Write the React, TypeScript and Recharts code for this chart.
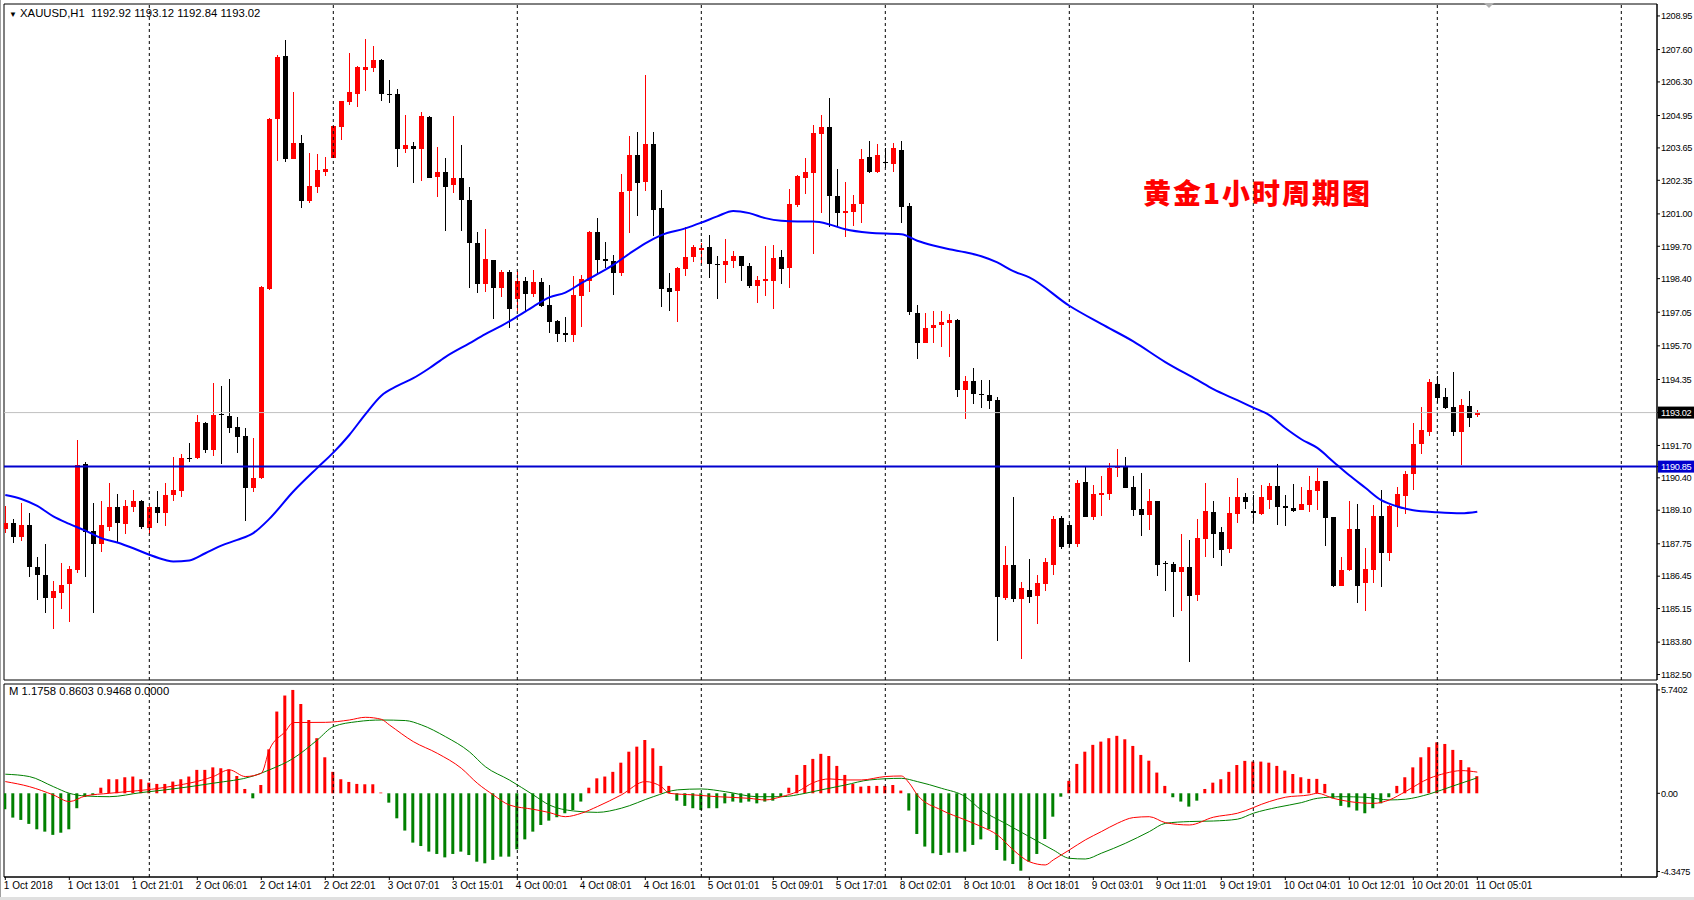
import React from "react";
import { ComposedChart, Bar, Line, XAxis, YAxis, ReferenceLine, ReferenceArea, Cell } from "recharts";

const FONT = "'Liberation Sans', Arial, sans-serif";

// bar slots: 8px each, first candle at x=5.3
const X_LO = -0.1625;
const X_HI = 206.4625;
const PRICE_LO = 1182.28;
const PRICE_HI = 1209.43;
const MACD_LO = -4.65;
const MACD_HI = 6.07;

const opens = [
  1188.34, 1188.58, 1188.04, 1188.51, 1186.82, 1186.5, 1185.59, 1185.79, 1186.13, 1186.7,
  1190.96, 1188.27, 1187.76, 1188.44, 1189.21, 1188.55, 1189.21, 1189.47, 1188.4, 1189.21,
  1188.97, 1189.72, 1189.89, 1191.19, 1191.19, 1192.62, 1191.52, 1192.97, 1192.89, 1192.46,
  1192.06, 1190.01, 1190.38, 1197.97, 1204.8, 1207.34, 1203.2, 1203.84, 1201.5, 1202.1,
  1202.7, 1203.26, 1204.51, 1205.51, 1205.83, 1206.76, 1206.85, 1207.18, 1205.83, 1205.82,
  1203.6, 1203.73, 1203.6, 1204.91, 1202.5, 1202.67, 1202.15, 1202.43, 1201.56, 1199.82,
  1198.18, 1199.15, 1198.04, 1198.67, 1197.57, 1198.31, 1197.77, 1198.27, 1197.35, 1196.68,
  1196.23, 1196.14, 1197.72, 1198.32, 1200.26, 1199.18, 1199.11, 1198.62, 1201.9, 1203.37,
  1202.3, 1203.81, 1201.23, 1198.03, 1197.92, 1198.8, 1199.25, 1199.53, 1199.66, 1198.98,
  1198.93, 1199.09, 1199.31, 1198.91, 1198.11, 1198.31, 1198.32, 1199.26, 1198.84, 1201.36,
  1202.46, 1202.66, 1204.2, 1204.48, 1201.72, 1201.05, 1201.09, 1201.39, 1203.27, 1202.7,
  1203.09, 1202.99, 1203.57, 1201.32, 1197.01, 1195.81, 1196.4, 1196.52, 1196.6, 1196.72,
  1193.93, 1194.29, 1193.78, 1193.73, 1193.53, 1185.56, 1186.9, 1185.54, 1185.9, 1185.66,
  1186.14, 1186.9, 1188.8, 1188.51, 1187.75, 1190.22, 1188.84, 1189.71, 1189.76, 1190.79,
  1190.88, 1190.02, 1189.15, 1188.91, 1189.47, 1186.97, 1186.94, 1186.6, 1186.81, 1185.7,
  1187.95, 1189.02, 1188.22, 1187.55, 1188.95, 1189.62, 1189.07, 1188.95, 1189.51, 1190.08,
  1189.25, 1189.18, 1189.11, 1189.31, 1189.88, 1190.28, 1188.84, 1186.07, 1186.68, 1188.35,
  1186.17, 1186.7, 1188.87, 1187.4, 1189.22, 1189.69, 1190.54, 1191.75, 1192.26, 1194.17,
  1193.64, 1193.23, 1192.26, 1193.29, 1192.92,
];

const highs = [
  1189.25, 1188.75, 1189.38, 1188.98, 1187.21, 1187.75, 1186.26, 1186.97, 1186.86, 1191.9,
  1191.04, 1189.38, 1189.45, 1190.18, 1189.76, 1189.51, 1189.92, 1189.51, 1189.27, 1189.88,
  1190.18, 1191.23, 1191.36, 1191.79, 1192.93, 1192.66, 1194.2, 1194.09, 1194.36, 1192.86,
  1192.39, 1191.99, 1198.11, 1204.84, 1207.39, 1207.99, 1205.91, 1204.17, 1203.44, 1203.41,
  1203.28, 1204.53, 1205.54, 1207.45, 1206.92, 1208.03, 1207.75, 1207.21, 1206.38, 1206.02,
  1204.98, 1203.88, 1205.11, 1204.94, 1203.7, 1203.26, 1204.94, 1203.77, 1202.07, 1200.29,
  1200.4, 1199.15, 1198.75, 1198.75, 1198.71, 1198.46, 1198.75, 1198.42, 1198.15, 1196.74,
  1196.85, 1198.49, 1198.55, 1200.32, 1200.84, 1199.86, 1199.35, 1202.61, 1204.13, 1204.29,
  1206.58, 1204.29, 1201.96, 1198.62, 1198.86, 1200.46, 1199.76, 1199.82, 1200.16, 1199.31,
  1199.98, 1199.52, 1199.31, 1199.02, 1198.51, 1199.71, 1199.75, 1199.55, 1202.0, 1202.57,
  1203.24, 1204.57, 1204.97, 1205.64, 1202.79, 1202.27, 1201.76, 1203.61, 1203.93, 1203.8,
  1203.64, 1203.84, 1203.93, 1201.43, 1197.35, 1197.01, 1197.08, 1197.08, 1196.98, 1196.78,
  1194.49, 1194.8, 1194.33, 1194.33, 1193.64, 1187.68, 1189.61, 1186.23, 1187.14, 1186.5,
  1187.17, 1188.87, 1188.87, 1188.58, 1190.32, 1190.83, 1190.12, 1190.48, 1190.99, 1191.56,
  1191.23, 1190.48, 1190.58, 1189.96, 1189.47, 1187.06, 1187.01, 1188.15, 1187.91, 1188.74,
  1190.18, 1189.47, 1188.44, 1189.61, 1190.38, 1189.78, 1189.71, 1190.12, 1190.21, 1190.96,
  1189.71, 1190.16, 1190.05, 1190.48, 1190.81, 1190.28, 1188.84, 1187.24, 1189.45, 1189.35,
  1187.6, 1189.29, 1189.92, 1189.29, 1190.05, 1190.69, 1192.62, 1193.26, 1194.37, 1194.49,
  1194.0, 1194.64, 1193.56, 1193.89, 1193.12,
];

const lows = [
  1188.18, 1187.8, 1187.88, 1186.43, 1185.5, 1184.99, 1184.32, 1185.12, 1184.59, 1186.57,
  1186.43, 1184.99, 1187.44, 1188.27, 1187.8, 1188.15, 1189.03, 1188.34, 1188.15, 1188.6,
  1188.47, 1189.47, 1189.61, 1191.05, 1191.15, 1191.41, 1191.28, 1190.96, 1192.19, 1191.41,
  1188.68, 1189.85, 1190.34, 1197.95, 1203.14, 1203.1, 1203.2, 1201.25, 1201.43, 1201.83,
  1202.54, 1203.26, 1203.95, 1205.38, 1205.31, 1205.94, 1206.69, 1205.54, 1205.44, 1202.9,
  1203.44, 1202.23, 1202.34, 1202.43, 1201.67, 1200.33, 1201.83, 1200.33, 1198.01, 1197.81,
  1197.88, 1196.77, 1197.65, 1196.41, 1197.12, 1197.08, 1197.68, 1197.28, 1196.23, 1195.87,
  1195.87, 1195.87, 1196.45, 1197.88, 1198.55, 1198.82, 1197.75, 1198.51, 1200.25, 1200.93,
  1201.9, 1200.12, 1197.28, 1197.08, 1196.64, 1198.49, 1199.05, 1198.99, 1198.44, 1197.59,
  1198.24, 1198.82, 1198.32, 1198.02, 1197.44, 1197.71, 1197.19, 1198.17, 1198.04, 1201.29,
  1201.8, 1199.38, 1201.03, 1200.49, 1200.49, 1200.09, 1200.53, 1200.65, 1202.63, 1202.66,
  1202.86, 1202.7, 1200.65, 1196.94, 1195.16, 1195.81, 1195.81, 1195.65, 1195.24, 1193.66,
  1192.75, 1193.37, 1193.22, 1193.18, 1183.86, 1185.5, 1185.43, 1183.13, 1185.39, 1184.53,
  1185.87, 1186.5, 1187.55, 1187.64, 1187.64, 1188.84, 1188.71, 1188.87, 1189.51, 1190.45,
  1190.01, 1188.87, 1188.07, 1188.31, 1186.46, 1185.86, 1184.83, 1185.07, 1183.02, 1185.47,
  1187.2, 1187.17, 1186.84, 1187.4, 1188.58, 1189.15, 1188.6, 1188.91, 1189.15, 1188.51,
  1188.47, 1189.04, 1189.09, 1189.04, 1189.09, 1187.68, 1186.03, 1186.07, 1186.64, 1185.39,
  1185.07, 1186.17, 1186.03, 1187.04, 1188.44, 1188.94, 1189.91, 1191.36, 1192.08, 1193.42,
  1193.17, 1192.06, 1190.92, 1192.46, 1192.84,
];

const closes = [
  1188.58, 1188.04, 1188.51, 1186.8, 1186.48, 1185.59, 1185.86, 1186.1, 1186.74, 1190.92,
  1188.24, 1187.73, 1188.51, 1189.21, 1188.6, 1189.25, 1189.47, 1188.44, 1189.21, 1188.97,
  1189.72, 1189.92, 1191.19, 1191.15, 1192.66, 1191.52, 1192.93, 1192.91, 1192.42, 1192.02,
  1190.01, 1190.41, 1198.05, 1204.8, 1207.29, 1203.2, 1203.84, 1201.5, 1202.12, 1202.77,
  1202.81, 1204.53, 1205.54, 1205.9, 1206.88, 1206.88, 1207.18, 1205.8, 1205.79, 1203.6,
  1203.77, 1203.6, 1204.94, 1202.46, 1202.67, 1202.1, 1202.43, 1201.54, 1199.82, 1198.18,
  1199.18, 1198.04, 1198.67, 1197.17, 1198.31, 1197.77, 1198.27, 1197.32, 1196.64, 1196.18,
  1196.15, 1197.75, 1198.39, 1200.28, 1199.15, 1199.09, 1198.62, 1201.88, 1203.37, 1202.26,
  1203.81, 1201.16, 1198.0, 1197.88, 1198.82, 1199.26, 1199.66, 1199.62, 1198.97, 1198.94,
  1199.11, 1199.31, 1198.89, 1198.11, 1198.35, 1198.38, 1199.22, 1198.8, 1201.4, 1202.53,
  1202.69, 1204.24, 1204.48, 1201.7, 1201.05, 1201.12, 1201.4, 1203.21, 1202.7, 1203.37,
  1203.03, 1203.64, 1201.27, 1197.04, 1195.81, 1196.41, 1196.54, 1196.67, 1196.72, 1193.93,
  1194.29, 1193.76, 1193.72, 1193.5, 1185.6, 1186.9, 1185.54, 1185.97, 1185.63, 1186.19,
  1187.0, 1188.75, 1187.64, 1187.75, 1190.18, 1188.84, 1189.74, 1189.78, 1190.79, 1190.88,
  1190.01, 1189.11, 1188.91, 1189.47, 1186.9, 1186.93, 1186.6, 1186.81, 1185.66, 1187.97,
  1189.07, 1188.15, 1187.51, 1188.98, 1189.62, 1189.41, 1188.98, 1189.61, 1190.08, 1189.21,
  1189.18, 1189.07, 1189.35, 1189.91, 1190.28, 1188.8, 1186.07, 1186.7, 1188.35, 1186.07,
  1186.73, 1188.87, 1187.4, 1189.25, 1189.75, 1190.56, 1191.76, 1192.32, 1194.24, 1193.62,
  1193.22, 1192.26, 1193.33, 1192.82, 1193.02,
];

// moving average, read at sampled bars
const maBars = [
  0, 2, 4, 6, 8, 10, 12, 14, 16, 18, 20, 21, 23, 25, 27, 29, 31, 33, 36, 39, 41, 43, 45, 47, 49,
  51, 53, 55, 58, 60, 62, 64, 66, 68, 70, 72, 74, 76, 78, 80, 82, 85, 87, 89, 91, 93, 95, 97, 99,
  101, 103, 105, 108, 112, 114, 116, 118, 120, 122, 124, 126, 128, 133, 137, 141, 145, 149, 151,
  154, 156, 158, 160, 162, 164, 166, 168, 170, 172, 174, 176, 179, 182, 184,
];
const maValues = [
  1189.71, 1189.55, 1189.27, 1188.85, 1188.55, 1188.28, 1187.98, 1187.8, 1187.57, 1187.31, 1187.1,
  1187.04, 1187.08, 1187.37, 1187.68, 1187.91, 1188.18, 1188.75, 1189.85, 1190.8, 1191.41, 1192.12,
  1192.95, 1193.7, 1194.09, 1194.4, 1194.8, 1195.25, 1195.8, 1196.17, 1196.5, 1196.88, 1197.28,
  1197.65, 1197.84, 1198.22, 1198.58, 1198.95, 1199.4, 1199.82, 1200.15, 1200.42, 1200.65, 1200.9,
  1201.12, 1201.03, 1200.83, 1200.72, 1200.69, 1200.69, 1200.58, 1200.38, 1200.24, 1200.18, 1199.92,
  1199.73, 1199.58, 1199.46, 1199.3, 1199.05, 1198.7, 1198.45, 1197.31, 1196.58, 1195.88, 1195.05,
  1194.33, 1193.96, 1193.52, 1193.22, 1192.92, 1192.4, 1191.95, 1191.6, 1191.05, 1190.5, 1190.0,
  1189.5, 1189.25, 1189.1, 1189.02, 1188.98, 1189.04,
];

const macdHist = [
  -0.89, -1.35, -1.48, -1.7, -2.0, -2.13, -2.31, -2.19, -2.0, -0.83,
  -0.2, -0.1, 0.31, 0.78, 0.78, 0.89, 0.93, 0.78, 0.59, 0.52,
  0.52, 0.65, 0.78, 0.93, 1.3, 1.3, 1.44, 1.39, 1.33, 0.96,
  0.24, -0.28, 0.46, 2.44, 4.54, 5.43, 5.74, 4.96, 4.07, 3.06,
  2.0, 1.19, 0.78, 0.63, 0.52, 0.5, 0.5, 0.04, -0.52, -1.39,
  -2.07, -2.74, -2.93, -3.24, -3.37, -3.56, -3.37, -3.24, -3.43, -3.8,
  -3.89, -3.7, -3.52, -3.52, -3.11, -2.56, -2.13, -1.76, -1.52, -1.33,
  -1.11, -0.93, -0.46, 0.31, 0.83, 0.93, 1.19, 1.7, 2.31, 2.59,
  2.96, 2.5, 1.52, 0.41, -0.41, -0.7, -0.83, -0.93, -0.83, -0.83,
  -0.56, -0.46, -0.52, -0.46, -0.56, -0.46, -0.41, -0.19, 0.31, 1.02,
  1.57, 1.91, 2.19, 2.07, 1.52, 1.02, 0.52, 0.37, 0.41, 0.41,
  0.41, 0.46, 0.15, -0.96, -2.26, -2.96, -3.33, -3.43, -3.3, -3.3,
  -3.24, -2.87, -2.56, -2.0, -3.15, -3.74, -3.93, -4.3, -3.8, -3.37,
  -2.54, -1.3, -0.19, 0.69, 1.63, 2.31, 2.69, 2.87, 3.06, 3.19,
  3.0, 2.63, 2.13, 1.81, 1.15, 0.41, -0.22, -0.46, -0.74, -0.41,
  0.24, 0.59, 0.78, 1.19, 1.57, 1.8, 1.76, 1.76, 1.7, 1.52,
  1.26, 1.07, 0.89, 0.8, 0.8, 0.52, -0.28, -0.7, -0.78, -0.96,
  -1.11, -0.83, -0.56, -0.22, 0.41, 0.89, 1.44, 2.0, 2.56, 2.83,
  2.74, 2.41, 1.85, 1.44, 0.95,
];

const macdRedBars = [
  0, 3, 6, 8, 10, 13, 20, 26, 28, 30, 32, 33, 35, 36, 40, 43, 45, 47, 48, 51, 54, 57, 59, 61, 63,
  66, 68, 70, 72, 74, 77, 80, 82, 83, 86, 89, 93, 95, 97, 99, 101, 103, 105, 107, 110, 112, 113,
  114, 117, 120, 122, 124, 126, 128, 130, 131, 133, 135, 137, 139, 141, 143, 145, 148, 151, 154,
  158, 160, 163, 164, 166, 168, 171, 173, 175, 178, 180, 182, 184,
];
const macdRedValues = [
  0.65, 0.37, -0.09, -0.46, -0.15, 0.0, 0.33, 0.93, 1.3, 0.93, 1.11, 2.41, 3.43, 3.93, 3.94, 4.07,
  4.22, 4.11, 3.8, 2.87, 2.22, 1.39, 0.56, -0.09, -0.65, -0.89, -1.07, -1.3, -1.11, -0.74, -0.09,
  0.65, 0.37, 0.0, -0.09, -0.19, -0.28, -0.37, -0.19, 0.09, 0.59, 0.8, 0.74, 0.74, 0.93, 0.96, 0.56,
  -0.09, -0.93, -1.48, -1.85, -2.31, -3.15, -3.8, -3.98, -3.7, -3.15, -2.59, -2.13, -1.67, -1.35,
  -1.3, -1.63, -1.76, -1.33, -1.11, -0.46, -0.22, -0.09, 0.0, -0.28, -0.46, -0.56, -0.37, 0.09,
  0.83, 1.11, 1.26, 1.1758,
];

const macdGreenBars = [
  0, 3, 6, 8, 10, 13, 17, 20, 26, 31, 33, 36, 39, 41, 44, 47, 50, 52, 55, 58, 60, 63, 66, 68, 71,
  74, 77, 81, 84, 87, 90, 94, 97, 100, 102, 105, 108, 112, 114, 117, 120, 122, 125, 128, 131, 133,
  135, 137, 140, 143, 145, 148, 151, 154, 156, 159, 162, 164, 167, 170, 173, 175, 178, 181, 184,
];
const macdGreenValues = [
  1.06, 0.93, 0.37, 0.0, -0.15, -0.19, 0.04, 0.19, 0.56, 0.96, 1.3, 1.94, 2.96, 3.7, 3.98, 4.07,
  4.04, 3.8, 3.15, 2.31, 1.48, 0.74, -0.09, -0.65, -0.98, -1.06, -0.83, -0.19, 0.19, 0.24, 0.09,
  -0.19, -0.19, 0.0, 0.19, 0.46, 0.74, 0.83, 0.65, 0.28, -0.19, -0.93, -1.67, -2.41, -3.15, -3.61,
  -3.65, -3.33, -2.78, -2.13, -1.67, -1.57, -1.54, -1.44, -1.11, -0.78, -0.52, -0.28, -0.19, -0.22,
  -0.37, -0.33, -0.04, 0.41, 0.8603,
];

const priceTicks = [
  1208.95, 1207.6, 1206.3, 1204.95, 1203.65, 1202.35, 1201.0, 1199.7, 1198.4, 1197.05, 1195.7,
  1194.35, 1191.7, 1190.4, 1189.1, 1187.75, 1186.45, 1185.15, 1183.8, 1182.5,
];
const bidPrice = 1193.02;
const levelPrice = 1190.85;
const macdTicks = [5.7402, 0, -4.3475];

const dayStartBars = [18, 41, 64, 87, 110, 133, 156, 179, 202];
const timeLabelBars = [0, 8, 16, 24, 32, 40, 48, 56, 64, 72, 80, 88, 96, 104, 112, 120, 128, 136, 144, 152, 160, 168, 176, 184];
const timeLabels = [
  "1 Oct 2018", "1 Oct 13:01", "1 Oct 21:01", "2 Oct 06:01", "2 Oct 14:01", "2 Oct 22:01",
  "3 Oct 07:01", "3 Oct 15:01", "4 Oct 00:01", "4 Oct 08:01", "4 Oct 16:01", "5 Oct 01:01",
  "5 Oct 09:01", "5 Oct 17:01", "8 Oct 02:01", "8 Oct 10:01", "8 Oct 18:01", "9 Oct 03:01",
  "9 Oct 11:01", "9 Oct 19:01", "10 Oct 04:01", "10 Oct 12:01", "10 Oct 20:01", "11 Oct 05:01",
];

const rows = opens.map((o, i) => {
  const ma = maBars.indexOf(i);
  const r = macdRedBars.indexOf(i);
  const g = macdGreenBars.indexOf(i);
  return {
    i,
    open: o,
    high: highs[i],
    low: lows[i],
    close: closes[i],
    range: [lows[i], highs[i]],
    ma: ma >= 0 ? maValues[ma] : null,
    hist: macdHist[i],
    red: r >= 0 ? macdRedValues[r] : null,
    green: g >= 0 ? macdGreenValues[g] : null,
  };
});

const Candle = (props: any) => {
  const { x, y, width, height, payload } = props;
  if (x == null || y == null) return null;
  const { open, close, high, low } = payload;
  const top = Math.min(y, y + height);
  const h = Math.abs(height);
  const k = high > low ? h / (high - low) : 0;
  const py = (v: number) => top + (high - v) * k;
  const cx = Math.round(x + width / 2);
  const up = close >= open;
  const color = up ? "#ff0000" : "#000000";
  const bTop = py(Math.max(open, close));
  const bH = Math.max(1, py(Math.min(open, close)) - bTop);
  return (
    <g shapeRendering="crispEdges">
      <rect x={cx} y={top} width={1} height={Math.max(1, h)} fill={color} />
      <rect x={cx - 2} y={bTop} width={5} height={bH} fill={color} />
    </g>
  );
};

// right-axis labels squeezed a little so they stay inside the 37px gutter
const AXIS_FONT = 9.2;
const AXIS_SPACING = -0.3;

const PriceTick = (props: any) => {
  const { x, y, payload } = props;
  const v = payload.value;
  let bg: string | null = null;
  if (v === bidPrice) bg = "#000000";
  if (v === levelPrice) bg = "#0000cd";
  return (
    <g>
      {bg && <rect x={x - 3} y={y - 6} width={40} height={12} fill={bg} />}
      <text
        x={x}
        y={y}
        dy={3.3}
        fontFamily={FONT}
        fontSize={AXIS_FONT}
        letterSpacing={AXIS_SPACING}
        fill={bg ? "#fff" : "#000"}
      >
        {v.toFixed(2)}
      </text>
    </g>
  );
};

const MacdTick = (props: any) => {
  const { x, y, payload } = props;
  const v = payload.value;
  return (
    <text x={x} y={y} dy={3.3} fontFamily={FONT} fontSize={AXIS_FONT} letterSpacing={AXIS_SPACING} fill="#000">
      {v === 0 ? "0.00" : v.toFixed(4)}
    </text>
  );
};

const TimeTick = (props: any) => {
  const { x, y, payload } = props;
  const idx = timeLabelBars.indexOf(payload.value);
  return (
    <text x={x - 1.5} y={y} dy={7} fontFamily={FONT} fontSize={10} fill="#000" textAnchor="start">
      {timeLabels[idx]}
    </text>
  );
};

export default function App() {
  return (
    <div
      style={{
        position: "absolute",
        left: 0,
        top: 0,
        width: 1694,
        height: 900,
        background: "#fff",
        overflow: "hidden",
        fontFamily: FONT,
      }}
    >
      {/* price panel */}
      <div style={{ position: "absolute", left: 0, top: 0 }}>
        <ComposedChart width={1694} height={682} data={rows} margin={{ top: 4, right: 0, bottom: 2, left: 4 }}>
          <XAxis dataKey="i" type="number" domain={[X_LO, X_HI]} allowDataOverflow hide />
          <YAxis
            orientation="right"
            type="number"
            domain={[PRICE_LO, PRICE_HI]}
            allowDataOverflow
            ticks={[...priceTicks, levelPrice, bidPrice]}
            interval={0}
            width={37}
            tickSize={3}
            tickMargin={1}
            tick={<PriceTick />}
            tickLine={{ stroke: "#000" }}
            axisLine={{ stroke: "#000" }}
          />
          <ReferenceArea x1={X_LO} x2={X_HI} y1={PRICE_LO} y2={PRICE_HI} fill="none" stroke="#000" strokeWidth={1} />
          {dayStartBars.map((d) => (
            <ReferenceLine key={d} x={d} stroke="#000" strokeDasharray="3 3" strokeWidth={1} />
          ))}
          <ReferenceLine y={bidPrice} stroke="#c0c0c0" strokeWidth={1} />
          <Line
            dataKey="ma"
            type="monotone"
            stroke="#0000ff"
            strokeWidth={2}
            dot={false}
            connectNulls
            isAnimationActive={false}
          />
          <Bar dataKey="range" barSize={5} shape={<Candle />} isAnimationActive={false} />
          <ReferenceLine y={levelPrice} stroke="#0000cd" strokeWidth={2} />
        </ComposedChart>
      </div>

      {/* MACD panel */}
      <div style={{ position: "absolute", left: 0, top: 682 }}>
        <ComposedChart width={1694} height={218} data={rows} margin={{ top: 2, right: 0, bottom: 0, left: 4 }}>
          <XAxis
            dataKey="i"
            type="number"
            domain={[X_LO, X_HI]}
            allowDataOverflow
            ticks={timeLabelBars}
            interval={0}
            height={23}
            tickSize={3}
            tickMargin={2}
            tick={<TimeTick />}
            tickLine={{ stroke: "#000" }}
            axisLine={{ stroke: "#000" }}
          />
          <YAxis
            orientation="right"
            type="number"
            domain={[MACD_LO, MACD_HI]}
            allowDataOverflow
            ticks={macdTicks}
            interval={0}
            width={37}
            tickSize={3}
            tickMargin={1}
            tick={<MacdTick />}
            tickLine={{ stroke: "#000" }}
            axisLine={{ stroke: "#000" }}
          />
          <ReferenceArea x1={X_LO} x2={X_HI} y1={MACD_LO} y2={MACD_HI} fill="none" stroke="#000" strokeWidth={1} />
          {dayStartBars.map((d) => (
            <ReferenceLine key={d} x={d} stroke="#000" strokeDasharray="3 3" strokeWidth={1} />
          ))}
          <Bar dataKey="hist" barSize={3} isAnimationActive={false}>
            {rows.map((r) => (
              <Cell key={r.i} fill={r.hist >= 0 ? "#ff0000" : "#008000"} />
            ))}
          </Bar>
          <Line dataKey="green" type="monotone" stroke="#008000" strokeWidth={1} dot={false} connectNulls isAnimationActive={false} />
          <Line dataKey="red" type="monotone" stroke="#ff0000" strokeWidth={1} dot={false} connectNulls isAnimationActive={false} />
        </ComposedChart>
      </div>

      {/* titles */}
      <div style={{ position: "absolute", left: 9, top: 7, fontSize: 11.3, lineHeight: "13px", color: "#000", whiteSpace: "pre" }}>
        <span style={{ fontSize: 8 }}>▼</span> XAUUSD,H1  1192.92 1193.12 1192.84 1193.02
      </div>
      <div style={{ position: "absolute", left: 9, top: 685, fontSize: 11.3, lineHeight: "13px", color: "#000", whiteSpace: "pre" }}>
        M 1.1758 0.8603 0.9468 0.0000
      </div>
      <div
        style={{
          position: "absolute",
          left: 1143,
          top: 175,
          fontSize: 28,
          lineHeight: "34px",
          fontWeight: 900,
          letterSpacing: 2,
          color: "#ff0000",
          fontFamily: "'Noto Sans CJK SC', sans-serif",
          whiteSpace: "pre",
        }}
      >
        黄金1小时周期图
      </div>
      <svg style={{ position: "absolute", left: 1484, top: 3 }} width={11} height={6}>
        <polygon points="0,0 10,0 5,5" fill="#b0b0b0" />
      </svg>
      <div style={{ position: "absolute", left: 0, top: 0, width: 1, height: 900, background: "#a0a0a0" }} />
      <div style={{ position: "absolute", left: 0, top: 897, width: 1694, height: 3, background: "#e0e0e0" }} />
    </div>
  );
}
